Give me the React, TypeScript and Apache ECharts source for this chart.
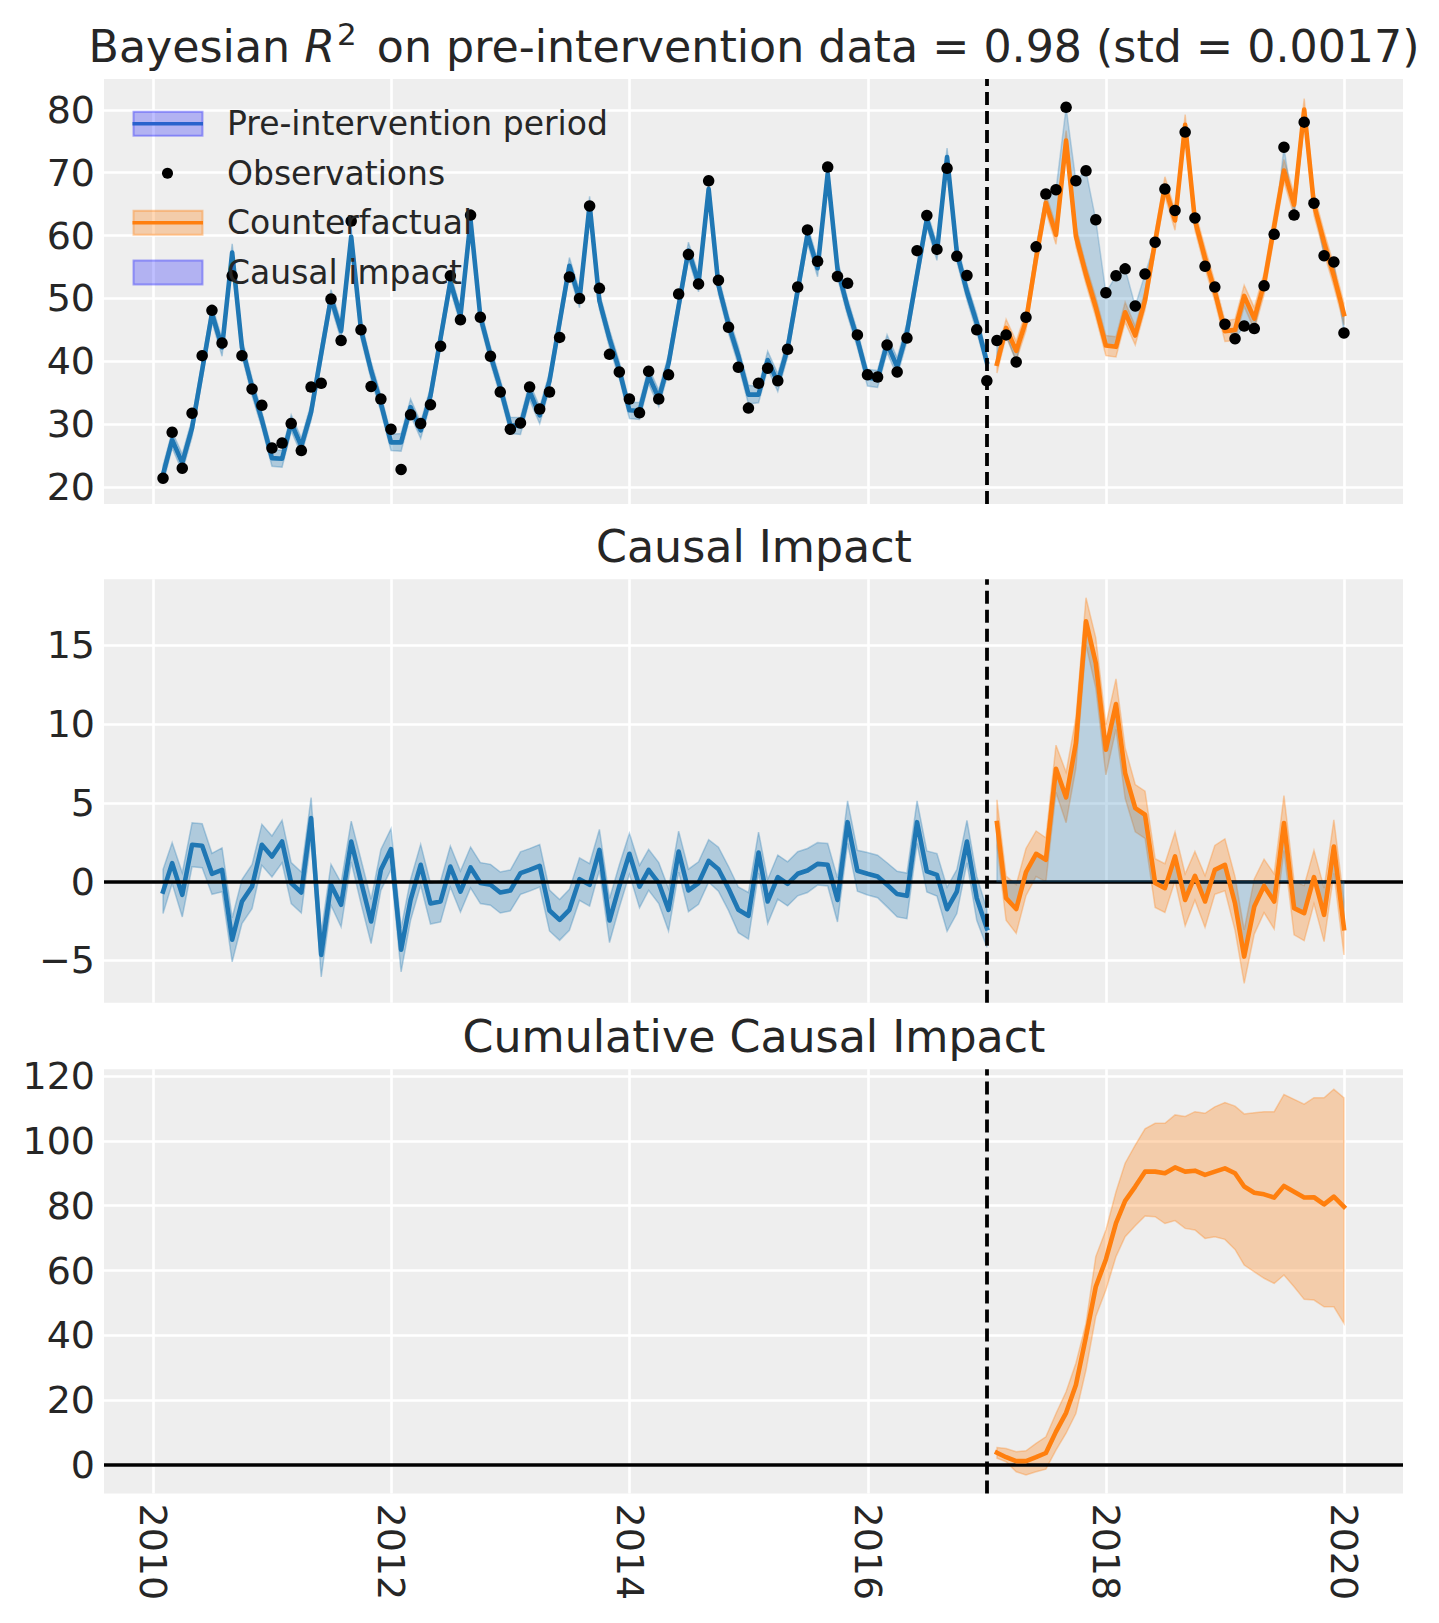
import React, { useEffect, useRef } from "react";
import * as echarts from "echarts";

// ---------- data (monthly, month-end, 2010-01 .. 2019-12) ----------
const observed = [
  21.4, 28.7, 23.0, 31.75, 40.9, 48.1, 42.9, 53.6, 40.9, 35.6,
  33.0, 26.2, 27.0, 30.1, 25.8, 35.9, 36.5, 49.9, 43.3, 62.3,
  45.0, 36.0, 34.0, 29.2, 22.8, 31.5, 30.1, 33.1, 42.4, 53.6,
  46.6, 63.25, 47.0, 40.8, 35.1, 29.2, 30.2, 35.9, 32.4, 35.1,
  43.8, 53.4, 50.0, 64.7, 51.6, 41.1, 38.3, 34.0, 31.8, 38.4,
  34.0, 37.85, 50.7, 57.0, 52.3, 68.7, 52.9, 45.4, 39.05, 32.55,
  36.5, 38.9, 36.9, 41.9, 51.8, 60.9, 55.9, 70.9, 53.5, 52.4,
  44.2, 37.85, 37.5, 42.6, 38.3, 43.7, 57.6, 63.2, 57.8, 70.7,
  56.7, 53.65, 45.0, 36.9, 43.3, 44.2, 39.9, 47.0, 58.2, 66.6,
  67.3, 80.4, 68.7, 70.3, 62.5, 50.9, 53.6, 54.7, 48.8, 53.9,
  58.95, 67.4, 64.0, 76.45, 62.8, 55.1, 51.8, 45.9, 43.6, 45.6,
  45.2, 52.0, 60.2, 74.06, 63.25, 78.04, 65.15, 56.8, 55.8, 44.5,
];

// model fit (pre-intervention) and counterfactual (post-intervention) posterior mean
const predicted = [
  22.0, 27.5, 23.85, 29.4, 38.6, 47.6, 42.2, 57.3, 42.2, 35.9,
  30.7, 24.6, 24.5, 30.2, 26.5, 31.9, 41.2, 50.1, 44.8, 59.8,
  45.0, 38.5, 33.3, 27.1, 27.1, 32.7, 29.0, 34.5, 43.7, 52.65,
  47.2, 62.4, 47.1, 41.0, 35.8, 29.8, 29.7, 35.2, 31.4, 36.9,
  46.2, 55.2, 49.85, 64.9, 49.6, 43.6, 38.6, 32.2, 32.1, 37.7,
  34.1, 39.65, 48.8, 57.6, 52.4, 67.4, 52.1, 45.85, 40.85, 34.7,
  34.7, 40.2, 36.6, 42.05, 51.3, 60.2, 54.8, 69.85, 54.7, 48.6,
  43.5, 37.4, 37.2, 42.8, 39.1, 44.6, 53.8, 62.6, 57.4, 72.5,
  57.3, 51.1, 46.1, 39.9, 39.6, 45.3, 41.65, 46.4, 56.4, 65.2,
  60.1, 75.1, 59.9, 53.8, 48.6, 42.5, 42.3, 47.8, 44.1, 49.7,
  59.05, 67.8, 62.4, 77.6, 62.4, 56.4, 51.1, 44.8, 45.0, 50.4,
  46.8, 52.3, 61.5, 70.35, 64.9, 80.05, 64.9, 58.9, 53.6, 47.5,
];

// causal impact (observed - predicted) posterior mean
const impact = [
  -0.64, 1.17, -0.85, 2.33, 2.27, 0.49, 0.74, -3.7, -1.27, -0.32,
  2.33, 1.59, 2.54, -0.1, -0.7, 4.03, -4.66, -0.21, -1.48, 2.54,
  0.0, -2.54, 0.74, 2.06, -4.34, -1.17, 1.06, -1.4, -1.27, 0.95,
  -0.64, 0.89, -0.1, -0.21, -0.7, -0.57, 0.53, 0.74, 1.0, -1.84,
  -2.44, -1.8, 0.15, -0.21, 2.01, -2.48, -0.3, 1.76, -0.32, 0.74,
  -0.1, -1.8, 1.9, -0.57, -0.1, 1.31, 0.78, -0.45, -1.8, -2.18,
  1.84, -1.27, 0.28, -0.15, 0.49, 0.7, 1.12, 1.06, -1.17, 3.77,
  0.68, 0.49, 0.32, -0.21, -0.8, -0.91, 3.77, 0.64, 0.42, -1.76,
  -0.64, 2.54, -1.06, -2.97, 3.71, -1.06, -1.75, 0.6, 1.76, 1.38,
  7.16, 5.34, 8.79, 16.53, 13.88, 8.37, 11.27, 6.89, 4.66, 4.24,
  -0.1, -0.42, 1.59, -1.17, 0.36, -1.27, 0.74, 1.06, -1.4, -4.77,
  -1.59, -0.28, -1.27, 3.71, -1.69, -2.01, 0.28, -2.12, 2.22, -2.97,
];

// half width of the credible band around the mean
const bandHalfWidth = [
  1.4, 1.3, 1.4, 1.4, 1.4, 1.3, 1.4, 1.4, 1.4, 1.4,
  1.3, 1.3, 1.35, 1.3, 1.3, 1.3, 1.4, 1.3, 1.4, 1.3,
  1.4, 1.4, 1.3, 1.3, 1.4, 1.3, 1.3, 1.3, 1.3, 1.3,
  1.3, 1.3, 1.3, 1.3, 1.3, 1.3, 1.35, 1.35, 1.35, 1.3,
  1.3, 1.3, 1.35, 1.35, 1.3, 1.4, 1.35, 1.3, 1.35, 1.3,
  1.3, 1.35, 1.3, 1.35, 1.35, 1.35, 1.4, 1.4, 1.45, 1.48,
  1.3, 1.4, 1.4, 1.4, 1.4, 1.4, 1.35, 1.35, 1.4, 1.35,
  1.3, 1.35, 1.35, 1.4, 1.45, 1.45, 1.35, 1.3, 1.35, 1.4,
  1.4, 1.35, 1.4, 1.2, 1.48, 1.4, 1.55, 1.5, 1.45, 1.4,
  1.5, 1.6, 1.6, 1.5, 1.6, 1.6, 1.6, 1.6, 1.5, 1.5,
  1.55, 1.55, 1.55, 1.65, 1.55, 1.65, 1.55, 1.65, 1.7, 1.7,
  1.75, 1.7, 1.75, 1.75, 1.7, 1.75, 1.7, 1.7, 1.7, 1.7,
];

// cumulative causal impact, post-intervention months (2017-01 .. 2019-12)
const cumulativeImpact = [
  3.8, 2.4, 1.2, 1.2, 2.4, 3.7, 10.3, 16.1, 24.7, 39.6,
  55.0, 63.4, 74.6, 81.5, 85.9, 90.5, 90.5, 90.0, 91.8, 90.5,
  90.8, 89.5, 90.5, 91.5, 90.0, 85.9, 84.0, 83.5, 82.5, 86.1,
  84.3, 82.5, 82.6, 80.4, 82.8, 79.7,
];
const cumulativeLower = [
  2.1, 1.0, -2.1, -3.1, -2.1, -1.3, 4.6, 9.8, 15.9, 29.3,
  45.8, 54.0, 64.3, 70.4, 73.8, 76.8, 76.6, 74.5, 75.4, 73.0,
  72.5, 69.9, 70.4, 69.6, 66.5, 61.7, 59.6, 57.6, 56.0, 58.6,
  55.0, 51.1, 50.9, 48.8, 48.8, 43.7,
];
const cumulativeUpper = [
  5.4, 5.1, 4.1, 4.4, 6.7, 8.7, 15.9, 22.6, 31.4, 43.7,
  64.3, 72.5, 84.3, 93.1, 98.7, 103.7, 105.4, 105.4, 108.0, 107.5,
  109.0, 108.5, 110.5, 111.8, 110.7, 108.3, 108.7, 109.0, 109.0, 114.3,
  112.8, 111.3, 113.3, 113.3, 115.9, 113.3,
];

const yearTickLabels = [2010, 2012, 2014, 2016, 2018, 2020];
const topTicks = [20, 30, 40, 50, 60, 70, 80];
const impactTicks = [-5, 0, 5, 10, 15];
const cumulativeTicks = [0, 20, 40, 60, 80, 100, 120];
const START_YEAR = 2010;
const N_MONTHS = 120;
const N_PRE = 84;
const INTERVENTION = Date.UTC(2017, 0, 1);

// month-end dates (UTC timestamps)
const dates: number[] = [];
for (let k = 0; k < N_MONTHS; k++) {
  dates.push(Date.UTC(START_YEAR + Math.floor(k / 12), (k % 12) + 1, 0));
}

const FONT = "DejaVu Sans";
const TEXT = "#262626";
const C0 = "#1f77b4";
const C1 = "#ff7f0e";
const BLUE_BAND = "rgba(31,119,180,0.3)";
const ORANGE_BAND = "rgba(255,127,14,0.3)";
const BLUE_FILL = "rgba(31,119,180,0.25)";

const preIdx = Array.from({ length: N_PRE }, (_, k) => k);
const postIdx = Array.from({ length: N_MONTHS - N_PRE }, (_, k) => k + N_PRE);

function band(axis: number, idx: number[], lo: number[], hi: number[], fill: string, z: number) {
  return {
    type: "custom",
    xAxisIndex: axis,
    yAxisIndex: axis,
    z,
    silent: true,
    data: idx.map((k, j) => [dates[k], lo[j], hi[j]]),
    encode: { x: 0, y: [1, 2] },
    renderItem: (params: any, api: any) => {
      if (params.dataIndex !== 0) return null;
      const top: number[][] = [];
      const bot: number[][] = [];
      for (let j = 0; j < idx.length; j++) {
        top.push(api.coord([dates[idx[j]], hi[j]]));
        bot.push(api.coord([dates[idx[j]], lo[j]]));
      }
      return {
        type: "polygon",
        shape: { points: top.concat(bot.reverse()) },
        style: { fill, stroke: fill, lineWidth: 1.5 },
      };
    },
  };
}

function line(axis: number, idx: number[], vals: number[], color: string, z: number, extra: any = {}) {
  return {
    type: "line",
    xAxisIndex: axis,
    yAxisIndex: axis,
    z,
    silent: true,
    symbol: "none",
    showSymbol: false,
    data: idx.map((k, j) => [dates[k], vals[j]]),
    lineStyle: { color, width: 4.6, join: "round", cap: "square" },
    itemStyle: { color },
    emphasis: { disabled: true },
    ...extra,
  };
}

const dashedMark = (withZero: boolean) => ({
  silent: true,
  symbol: ["none", "none"],
  label: { show: false },
  emphasis: { disabled: true },
  animation: false,
  data: [
    { xAxis: INTERVENTION, lineStyle: { color: "#000", width: 3.8, type: [13, 6], cap: "butt", opacity: 1 } },
    ...(withZero ? [{ yAxis: 0, lineStyle: { color: "#000", width: 3.6, type: "solid", opacity: 1 } }] : []),
  ],
});

const fmtNum = (v: number) => (v < 0 ? "\u2212" + Math.abs(v) : String(v));

const gridDefs = [
  { top: 79, height: 425 },
  { top: 579.3, height: 423.4 },
  { top: 1069.3, height: 424.2 },
];
const yRanges: [number, number, number[]][] = [
  [17.3, 84.9, topTicks],
  [-7.7, 19.2, impactTicks],
  [-8.79, 122.07, cumulativeTicks],
];

const yearValues = yearTickLabels.map((y) => Date.UTC(y, 0, 1));

function buildOption() {
  const grids = gridDefs.map((g) => ({
    left: 104,
    right: 36,
    top: g.top,
    height: g.height,
    show: true,
    backgroundColor: "#eeeeee",
    borderWidth: 0,
    containLabel: false,
  }));
  const xAxes = [0, 1, 2].map((i) => ({
    type: "value",
    gridIndex: i,
    min: Date.UTC(2009, 7, 3),
    max: Date.UTC(2020, 5, 29),
    axisLine: { show: false },
    axisTick: { show: false, customValues: yearValues },
    splitLine: { show: true, lineStyle: { color: "#ffffff", width: 2.6 } },
    axisLabel: {
      show: i === 2,
      customValues: yearValues,
      rotate: -90,
      margin: 10,
      fontSize: 38,
      fontFamily: FONT,
      color: TEXT,
      formatter: (v: number) => String(new Date(v).getUTCFullYear()),
    },
  }));
  const yAxes = yRanges.map(([mn, mx, ticks], i) => ({
    type: "value",
    gridIndex: i,
    min: mn,
    max: mx,
    axisLine: { show: false },
    axisTick: { show: false, customValues: ticks },
    splitLine: { show: true, lineStyle: { color: "#ffffff", width: 2.6 } },
    axisLabel: {
      customValues: ticks,
      margin: 9,
      fontSize: 38,
      fontFamily: FONT,
      color: TEXT,
      formatter: (v: number) => fmtNum(v),
    },
  }));

  const preModel = preIdx.map((k) => predicted[k]);
  const postModel = postIdx.map((k) => predicted[k]);
  const preImpact = preIdx.map((k) => impact[k]);
  const postImpact = postIdx.map((k) => impact[k]);
  const postObs = postIdx.map((k) => observed[k]);
  const zeros = postIdx.map(() => 0);

  const series: any[] = [
    // --- top panel ---
    band(0, preIdx, preIdx.map((k) => predicted[k] - bandHalfWidth[k]), preIdx.map((k) => predicted[k] + bandHalfWidth[k]), BLUE_BAND, 2),
    line(0, preIdx, preModel, C0, 3),
    band(0, postIdx, postIdx.map((k) => predicted[k] - bandHalfWidth[k]), postIdx.map((k) => predicted[k] + bandHalfWidth[k]), ORANGE_BAND, 4),
    band(0, postIdx, postModel, postObs, BLUE_FILL, 5),
    line(0, postIdx, postModel, C1, 6),
    {
      type: "scatter",
      xAxisIndex: 0,
      yAxisIndex: 0,
      z: 8,
      silent: true,
      symbolSize: 11.5,
      itemStyle: { color: "#000000", opacity: 1 },
      emphasis: { disabled: true },
      data: dates.map((d, k) => [d, observed[k]]),
      markLine: dashedMark(false),
    },
    // --- middle panel ---
    band(1, preIdx, preIdx.map((k) => impact[k] - bandHalfWidth[k]), preIdx.map((k) => impact[k] + bandHalfWidth[k]), BLUE_BAND, 2),
    line(1, preIdx, preImpact, C0, 3),
    band(1, postIdx, postIdx.map((k) => impact[k] - bandHalfWidth[k]), postIdx.map((k) => impact[k] + bandHalfWidth[k]), ORANGE_BAND, 4),
    band(1, postIdx, zeros, postImpact, BLUE_FILL, 5),
    line(1, postIdx, postImpact, C1, 6, { markLine: dashedMark(true) }),
    // --- bottom panel ---
    band(2, postIdx, cumulativeLower, cumulativeUpper, ORANGE_BAND, 4),
    line(2, postIdx, cumulativeImpact, C1, 6, { markLine: dashedMark(true) }),
  ];

  const legendRows = [123.8, 173.3, 222.8, 272.5];
  const patch = (cy: number, fill: string, stroke: string) => ({
    type: "rect",
    z: 50,
    shape: { x: 133.5, y: cy - 12, width: 69, height: 24 },
    style: { fill, stroke, lineWidth: 2 },
  });
  const legText = (cy: number, t: string) => ({
    type: "text",
    z: 50,
    x: 227,
    y: cy,
    style: { text: t, fontSize: 33, fontFamily: FONT, fill: TEXT, align: "left", verticalAlign: "middle" },
  });
  const graphic: any[] = [
    {
      type: "text",
      z: 50,
      x: 754,
      y: 46.6,
      style: {
        text: "Bayesian {it|R}{sup|2} on pre-intervention data = 0.98 (std = 0.0017)",
        fontSize: 44.3,
        fontFamily: FONT,
        fill: TEXT,
        align: "center",
        verticalAlign: "middle",
        lineHeight: 56,
        rich: {
          it: { fontSize: 44.3, fontFamily: FONT, fontStyle: "italic", fill: TEXT, lineHeight: 56 },
          sup: { fontSize: 31, fontFamily: FONT, fill: TEXT, verticalAlign: "top", lineHeight: 32, padding: [0, 6, 0, 2] },
        },
      },
    },
    {
      type: "text",
      z: 50,
      x: 754,
      y: 546.6,
      style: { text: "Causal Impact", fontSize: 44.3, fontFamily: FONT, fill: TEXT, align: "center", verticalAlign: "middle" },
    },
    {
      type: "text",
      z: 50,
      x: 754,
      y: 1036.6,
      style: { text: "Cumulative Causal Impact", fontSize: 44.3, fontFamily: FONT, fill: TEXT, align: "center", verticalAlign: "middle" },
    },
    patch(legendRows[0], "rgba(0,0,255,0.25)", "rgba(0,0,255,0.32)"),
    { type: "line", z: 51, shape: { x1: 132.5, y1: legendRows[0], x2: 203, y2: legendRows[0] }, style: { stroke: "#2962cc", lineWidth: 3.5 } },
    legText(legendRows[0], "Pre-intervention period"),
    { type: "circle", z: 51, shape: { cx: 167.5, cy: legendRows[1], r: 5.5 }, style: { fill: "#000" } },
    legText(legendRows[1], "Observations"),
    patch(legendRows[2], "rgba(255,127,14,0.3)", "rgba(255,127,14,0.38)"),
    { type: "line", z: 51, shape: { x1: 132.5, y1: legendRows[2], x2: 203, y2: legendRows[2] }, style: { stroke: C1, lineWidth: 3.5 } },
    legText(legendRows[2], "Counterfactual"),
    patch(legendRows[3], "rgba(0,0,255,0.25)", "rgba(0,0,255,0.32)"),
    legText(legendRows[3], "Causal impact"),
  ];

  return {
    animation: false,
    backgroundColor: "#ffffff",
    textStyle: { fontFamily: FONT },
    grid: grids,
    xAxis: xAxes,
    yAxis: yAxes,
    series,
    graphic,
  };
}

export default function App() {
  const ref = useRef<HTMLDivElement>(null);
  useEffect(() => {
    if (!ref.current) return;
    const chart = echarts.init(ref.current, null, { renderer: "svg" });
    chart.setOption(buildOption() as any);
    return () => chart.dispose();
  }, []);
  return (
    <div
      ref={ref}
      style={{ position: "absolute", left: 0, top: 0, width: 1439, height: 1623, background: "#ffffff" }}
    />
  );
}
